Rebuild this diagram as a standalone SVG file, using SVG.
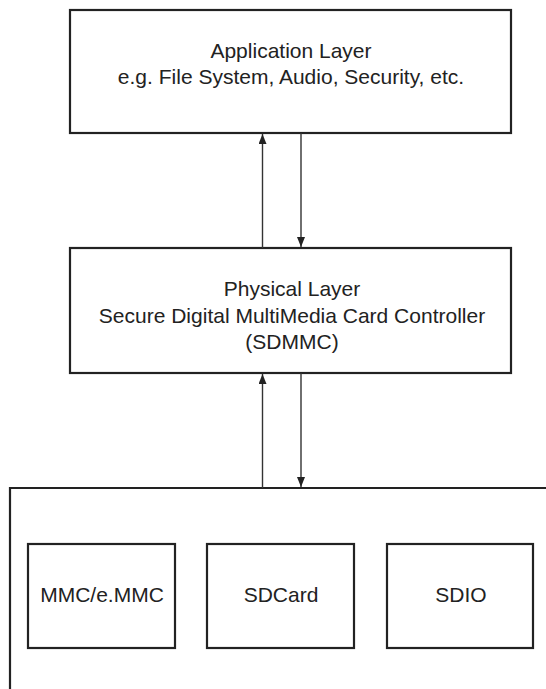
<svg xmlns="http://www.w3.org/2000/svg" width="546" height="689" viewBox="0 0 546 689">
<style>
.box{fill:#fff;stroke:#222;stroke-width:2.2}
.t{font-family:"Liberation Sans",Arial,sans-serif;font-size:21px;fill:#222;text-anchor:middle}
.c{stroke:#333;stroke-width:1.4;fill:none}
</style>
<defs>
<marker id="ah" viewBox="0 0 10 8" refX="10" refY="4" markerWidth="10" markerHeight="8" markerUnits="userSpaceOnUse" orient="auto">
<path d="M0,0 L10,4 L0,8 Z" fill="#222"/>
</marker>
</defs>
<rect width="546" height="689" fill="#fff"/>
<g id="app">
<rect class="box" x="70" y="10" width="441" height="123"/>
<text class="t" x="291" y="57.5">Application Layer</text>
<text class="t" x="291" y="83.5">e.g. File System, Audio, Security, etc.</text>
</g>
<g id="phy">
<rect class="box" x="70" y="248" width="441" height="125"/>
<text class="t" x="292" y="296">Physical Layer</text>
<text class="t" x="292" y="323">Secure Digital MultiMedia Card Controller</text>
<text class="t" x="292" y="349">(SDMMC)</text>
</g>
<g id="cards">
<path d="M10,689 L10,488 L546,488" fill="none" stroke="#222" stroke-width="2.2"/>
</g>
<g id="mmc">
<rect class="box" x="28" y="544" width="147" height="104"/>
<text class="t" x="102" y="601.5">MMC/e.MMC</text>
</g>
<g id="sdcard">
<rect class="box" x="207" y="544" width="147" height="104"/>
<text class="t" x="281" y="601.5">SDCard</text>
</g>
<g id="sdio">
<rect class="box" x="387" y="544" width="146" height="104"/>
<text class="t" x="461" y="601.5">SDIO</text>
</g>
<g id="connectors">
<line class="c" x1="262.5" y1="248" x2="262.5" y2="134" marker-end="url(#ah)"/>
<line class="c" x1="301" y1="133" x2="301" y2="247" marker-end="url(#ah)"/>
<line class="c" x1="262.5" y1="488" x2="262.5" y2="374" marker-end="url(#ah)"/>
<line class="c" x1="301" y1="373" x2="301" y2="487" marker-end="url(#ah)"/>
</g>
</svg>
